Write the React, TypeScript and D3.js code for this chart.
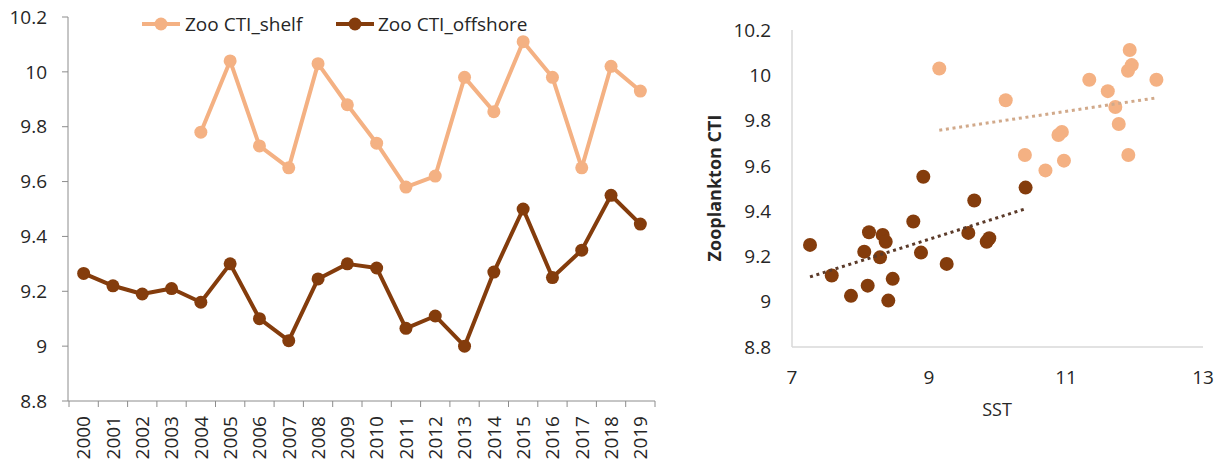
import * as React from "react";
import * as d3 from "d3";

// time series (left panel)
const years: string[] = d3.range(2000, 2020).map(String);
const shelfYears: string[] = d3.range(2004, 2020).map(String);
const shelfCti: number[] = [9.78, 10.04, 9.73, 9.65, 10.03, 9.88, 9.74, 9.58, 9.62, 9.98, 9.855, 10.11, 9.98, 9.65, 10.02, 9.93];
const offshoreCti: number[] = [9.265, 9.22, 9.19, 9.21, 9.16, 9.3, 9.1, 9.02, 9.245, 9.3, 9.285, 9.065, 9.11, 9.0, 9.27, 9.5, 9.25, 9.35, 9.55, 9.445];
const yTicks: number[] = [8.8, 9, 9.2, 9.4, 9.6, 9.8, 10, 10.2];

// SST vs CTI scatter (right panel)
const sstShelf: number[] = [11.93, 11.96, 11.905, 11.34, 12.32, 11.61, 11.72, 11.77, 10.12, 10.94, 10.89, 10.4, 10.97, 10.7, 11.91, 9.15];
const ctiShelf: number[] = [10.112, 10.045, 10.02, 9.98, 9.98, 9.93, 9.86, 9.785, 9.89, 9.75, 9.736, 9.648, 9.623, 9.58, 9.648, 10.03];
const sstOffshore: number[] = [8.917, 8.771, 8.124, 8.324, 8.368, 7.263, 8.055, 8.285, 8.883, 9.258, 7.58, 8.47, 8.105, 7.861, 8.406, 10.41, 9.661, 9.574, 9.842, 9.88];
const ctiOffshore: number[] = [9.552, 9.354, 9.307, 9.295, 9.265, 9.251, 9.221, 9.196, 9.217, 9.167, 9.116, 9.101, 9.071, 9.026, 9.005, 9.504, 9.447, 9.304, 9.265, 9.28];
const sstTicks: number[] = [7, 9, 11, 13];

const SHELF = "#F4B183";
const OFFSHORE = "#843C0C";
const TEXT = "#262626";
const FONT = "'Open Sans', sans-serif";

const W = 1222;
const H = 464;

// least squares line over the x extent, like Excel's linear trendline
function fit(xs: number[], ys: number[]) {
  const mx = d3.mean(xs);
  const my = d3.mean(ys);
  let num = 0;
  let den = 0;
  xs.forEach((x, i) => {
    num += (x - mx) * (ys[i] - my);
    den += (x - mx) * (x - mx);
  });
  const b = num / den;
  const a = my - b * mx;
  const [x0, x1] = d3.extent(xs);
  return [
    [x0, a + b * x0],
    [x1, a + b * x1]
  ];
}

export default function App() {
  // left panel scales
  const xBand = d3.scaleBand<string>().domain(years).range([69, 655]);
  const yL = d3.scaleLinear().domain([8.8, 10.2]).range([401, 17]);
  const cx = (yr: string) => xBand(yr) + xBand.bandwidth() / 2;
  const line = d3.line<[string, number]>().x(d => cx(d[0])).y(d => yL(d[1]));
  const shelfPts: [string, number][] = shelfYears.map((y, i) => [y, shelfCti[i]]);
  const offPts: [string, number][] = years.map((y, i) => [y, offshoreCti[i]]);

  // right panel scales
  const xR = d3.scaleLinear().domain([7, 13]).range([792, 1203]);
  const yR = d3.scaleLinear().domain([8.8, 10.2]).range([347, 30]);
  const trend = d3.line<number[]>().x(d => xR(d[0])).y(d => yR(d[1]));
  const shelfFit = fit(sstShelf, ctiShelf);
  const offFit = fit(sstOffshore, ctiOffshore);

  return (
    <svg width={W} height={H} style={{ position: "absolute", left: 0, top: 0, background: "#fff" }} fontFamily={FONT}>
      {/* left axes */}
      <line x1={68} x2={68} y1={17} y2={401} stroke="#8c8c8c" strokeWidth={1} />
      <line x1={68} x2={655} y1={401} y2={401} stroke="#8c8c8c" strokeWidth={1} />
      {yTicks.map(t => (
        <g key={"yl" + t}>
          <line x1={62} x2={68} y1={yL(t)} y2={yL(t)} stroke="#8c8c8c" />
          <text x={47} y={yL(t)} dy="0.35em" textAnchor="end" fontSize={19} fill={TEXT}>
            {t}
          </text>
        </g>
      ))}
      {[...years.map(y => xBand(y)), 655].map((x, i) => (
        <line key={"xt" + i} x1={x} x2={x} y1={401} y2={407} stroke="#8c8c8c" />
      ))}
      {years.map(y => (
        <text
          key={"xl" + y}
          transform={`translate(${cx(y)},${416}) rotate(-90)`}
          dy="0.36em"
          textAnchor="end"
          fontSize={19}
          fill={TEXT}
        >
          {y}
        </text>
      ))}

      {/* series */}
      <path d={line(shelfPts)} fill="none" stroke={SHELF} strokeWidth={4} strokeLinejoin="round" />
      {shelfPts.map(d => (
        <circle key={"s" + d[0]} cx={cx(d[0])} cy={yL(d[1])} r={6.5} fill={SHELF} />
      ))}
      <path d={line(offPts)} fill="none" stroke={OFFSHORE} strokeWidth={4} strokeLinejoin="round" />
      {offPts.map(d => (
        <circle key={"o" + d[0]} cx={cx(d[0])} cy={yL(d[1])} r={6.5} fill={OFFSHORE} />
      ))}

      {/* legend */}
      <line x1={142} x2={180} y1={24} y2={24} stroke={SHELF} strokeWidth={4} />
      <circle cx={161} cy={24} r={6.5} fill={SHELF} />
      <text x={185} y={24} dy="0.35em" fontSize={19} fill={TEXT}>Zoo CTI_shelf</text>
      <line x1={336} x2={374} y1={24} y2={24} stroke={OFFSHORE} strokeWidth={4} />
      <circle cx={355} cy={24} r={6.5} fill={OFFSHORE} />
      <text x={378} y={24} dy="0.35em" fontSize={19} fill={TEXT}>Zoo CTI_offshore</text>

      {/* right axes */}
      <line x1={792} x2={792} y1={30} y2={347} stroke="#d9d9d9" strokeWidth={1.5} />
      <line x1={792} x2={1203} y1={347} y2={347} stroke="#d9d9d9" strokeWidth={1.5} />
      {yTicks.map(t => (
        <text key={"yr" + t} x={771} y={yR(t)} dy="0.35em" textAnchor="end" fontSize={19} fill={TEXT}>
          {t}
        </text>
      ))}
      {sstTicks.map(t => (
        <text key={"xr" + t} x={xR(t)} y={377} dy="0.35em" textAnchor="middle" fontSize={19} fill={TEXT}>
          {t}
        </text>
      ))}
      <text x={997} y={410} dy="0.35em" textAnchor="middle" fontSize={18} fill={TEXT}>SST</text>
      <text
        transform={`translate(${715},${188}) rotate(-90)`}
        dy="0.35em"
        textAnchor="middle"
        fontSize={18}
        fontWeight="bold"
        fill={TEXT}
      >
        Zooplankton CTI
      </text>

      {/* scatter */}
      {sstShelf.map((x, i) => (
        <circle key={"ps" + i} cx={xR(x)} cy={yR(ctiShelf[i])} r={7} fill={SHELF} />
      ))}
      {sstOffshore.map((x, i) => (
        <circle key={"po" + i} cx={xR(x)} cy={yR(ctiOffshore[i])} r={7} fill={OFFSHORE} />
      ))}
      <path d={trend(shelfFit)} fill="none" stroke="#d1a98a" strokeWidth={3} strokeDasharray="3,3.7" />
      <path d={trend(offFit)} fill="none" stroke="#5b3a29" strokeWidth={3} strokeDasharray="3,3.7" />
    </svg>
  );
}
